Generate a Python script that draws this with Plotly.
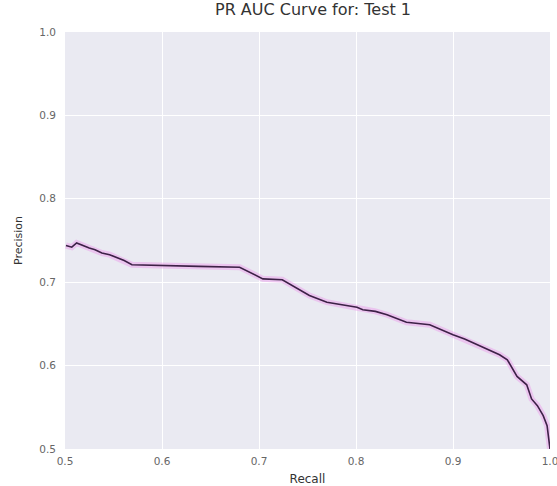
import plotly.graph_objects as go

recall = [0.501, 0.507, 0.512, 0.518, 0.525, 0.531, 0.538, 0.546, 0.554, 0.561, 0.569,
          0.597, 0.638, 0.680, 0.692, 0.704, 0.724, 0.738, 0.752, 0.770, 0.785,
          0.801, 0.807, 0.820, 0.832, 0.852, 0.876, 0.888, 0.900, 0.912, 0.925,
          0.937, 0.948, 0.956, 0.961, 0.966, 0.976, 0.981, 0.987, 0.993, 0.997, 0.999, 1.000]
precision = [0.744, 0.742, 0.747, 0.744, 0.741, 0.739, 0.735, 0.733, 0.729, 0.726, 0.721,
             0.720, 0.719, 0.718, 0.711, 0.704, 0.703, 0.693, 0.684, 0.676, 0.673,
             0.670, 0.667, 0.665, 0.661, 0.652, 0.649, 0.643, 0.637, 0.632, 0.625,
             0.619, 0.613, 0.607, 0.597, 0.587, 0.577, 0.560, 0.552, 0.540, 0.528, 0.512, 0.500]

title_text = "PR AUC Curve for: Test 1"
x_ticks = [0.5, 0.6, 0.7, 0.8, 0.9, 1.0]
y_ticks = [0.5, 0.6, 0.7, 0.8, 0.9, 1.0]

fig = go.Figure()
fig.add_trace(go.Scatter(x=recall, y=precision, mode="lines",
                         line=dict(color="rgba(235,160,235,0.5)", width=6),
                         hoverinfo="skip", showlegend=False))
fig.add_trace(go.Scatter(x=recall, y=precision, mode="lines",
                         line=dict(color="#3d2147", width=1.6),
                         showlegend=False))

fig.update_layout(
    width=557, height=486,
    margin=dict(l=65, r=7, t=32, b=37, autoexpand=False),
    paper_bgcolor="white", plot_bgcolor="#EAEAF2",
    font=dict(family="DejaVu Sans", color="#444"),
    title=dict(text=title_text, x=0.562, xanchor="center", y=0.992, yanchor="top",
               automargin=False, font=dict(size=16, color="#333")),
)
fig.update_xaxes(range=[0.5, 1.0], tickvals=x_ticks, ticktext=[f"{v:.1f}" for v in x_ticks],
                 showgrid=True, gridcolor="white", gridwidth=1, zeroline=False,
                 showline=False, tickfont=dict(size=10.5, color="#666"),
                 ticklabelstandoff=4, ticklabeloverflow="allow", automargin=False,
                 title=dict(text="Recall", font=dict(size=12, color="#333"), standoff=9))
fig.update_yaxes(range=[0.5, 1.0], tickvals=y_ticks, ticktext=[f"{v:.1f}" for v in y_ticks],
                 showgrid=True, gridcolor="white", gridwidth=1, zeroline=False,
                 showline=False, tickfont=dict(size=10.5, color="#666"),
                 ticklabelstandoff=8, ticklabeloverflow="allow", automargin=False,
                 title=dict(text="Precision", font=dict(size=11, color="#333"), standoff=14))

fig.write_html("out.html", config={"displayModeBar": False},
               post_script="document.body.style.margin='0';document.body.style.padding='0';")
